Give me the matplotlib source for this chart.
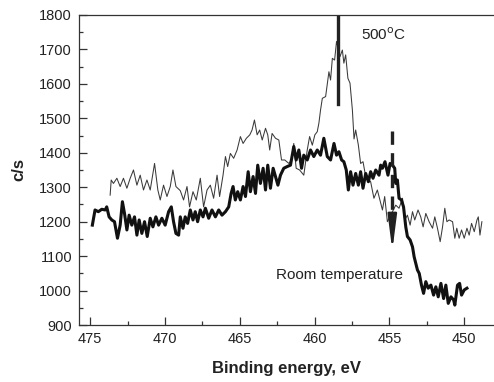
import matplotlib
matplotlib.use("Agg")
import matplotlib.pyplot as plt

plt.rcParams['font.family'] = ['Liberation Sans', 'DejaVu Sans']

# 500 C spectrum (thin line)
hot_ev = [473.67, 473.6, 473.45, 473.22, 473.0, 472.78, 472.55, 472.33, 472.11, 471.88,
          471.66, 471.44, 471.21, 470.99, 470.7, 470.48, 470.32, 470.1, 469.87, 469.65,
          469.47, 469.27, 468.98, 468.76, 468.53, 468.36, 468.13, 467.91, 467.64, 467.42,
          467.19, 466.97, 466.75, 466.52, 466.35, 466.12, 465.96, 465.81, 465.63, 465.41,
          465.18, 464.96, 464.78, 464.56, 464.33, 464.18, 464.02, 463.84, 463.67, 463.5,
          463.28, 463.13, 463.0, 462.84, 462.61, 462.39, 462.21, 461.99, 461.72, 461.54,
          461.39, 461.23, 461.0, 460.72, 460.49, 460.33, 460.15, 459.98, 459.82, 459.71,
          459.6, 459.48, 459.26, 459.04, 458.93, 458.81, 458.66, 458.53, 458.3, 458.14,
          458.04, 457.92, 457.77, 457.63, 457.47, 457.36, 457.25, 457.07, 456.92, 456.76,
          456.58, 456.25, 456.03, 455.8, 455.58, 455.46, 455.31, 455.13, 454.91, 454.57,
          454.35, 454.12, 453.97, 453.79, 453.61, 453.45, 453.3, 453.08, 452.9, 452.74,
          452.56, 452.34, 452.11, 451.96, 451.78, 451.6, 451.44, 451.29, 451.15, 451.0,
          450.77, 450.62, 450.49, 450.33, 450.17, 449.99, 449.81, 449.66, 449.5, 449.32,
          449.14, 449.05, 448.94, 448.81]
hot_cps = [1277, 1321, 1311, 1326, 1302, 1326, 1297, 1326, 1350, 1306,
           1335, 1292, 1321, 1292, 1369, 1292, 1263, 1306, 1273, 1302,
           1350, 1302, 1290, 1263, 1302, 1243, 1287, 1263, 1326, 1243,
           1292, 1306, 1268, 1335, 1273, 1335, 1389, 1360, 1398, 1384,
           1408, 1447, 1427, 1442, 1452, 1466, 1495, 1452, 1466, 1437,
           1471, 1452, 1408, 1456, 1442, 1437, 1379, 1379, 1369, 1379,
           1427, 1355, 1350, 1335, 1408, 1447, 1422, 1452, 1461, 1486,
           1524, 1558, 1563, 1635, 1611, 1674, 1669, 1723, 1679, 1698,
           1660, 1684, 1616, 1602, 1524, 1440, 1466, 1422, 1369, 1374,
           1331, 1316, 1268, 1292, 1255, 1234, 1273, 1200, 1219, 1248,
           1239, 1268, 1205, 1219, 1190, 1229, 1205, 1234, 1214, 1185,
           1224, 1200, 1181, 1214, 1181, 1142, 1185, 1239, 1200, 1205,
           1200, 1152, 1181, 1152, 1176, 1152, 1181, 1161, 1195, 1171,
           1205, 1214, 1161, 1200]

# room temperature spectrum (thick line)
rt_ev = [474.86, 474.68, 474.46, 474.23, 474.0, 473.9, 473.74, 473.56, 473.38, 473.18,
         473.0, 472.85, 472.71, 472.55, 472.4, 472.22, 472.04, 471.88, 471.73, 471.55,
         471.37, 471.19, 470.99, 470.81, 470.61, 470.43, 470.21, 469.99, 469.76, 469.58,
         469.43, 469.27, 469.09, 468.98, 468.8, 468.65, 468.49, 468.31, 468.13, 467.98,
         467.82, 467.64, 467.46, 467.3, 467.08, 466.86, 466.63, 466.41, 466.19, 465.96,
         465.74, 465.58, 465.45, 465.3, 465.14, 464.96, 464.78, 464.62, 464.44, 464.29,
         464.11, 463.95, 463.8, 463.62, 463.44, 463.28, 463.13, 462.95, 462.77, 462.61,
         462.45, 462.28, 462.06, 461.83, 461.61, 461.39, 461.23, 461.05, 460.87, 460.72,
         460.49, 460.27, 460.05, 459.82, 459.6, 459.38, 459.15, 458.93, 458.7, 458.53,
         458.37, 458.19, 458.04, 457.88, 457.74, 457.59, 457.43, 457.25, 457.07, 456.92,
         456.76, 456.58, 456.4, 456.25, 456.09, 455.91, 455.69, 455.58, 455.46, 455.29,
         455.09, 454.95, 454.79, 454.64, 454.57, 454.46, 454.35, 454.19, 454.05, 453.9,
         453.79, 453.61, 453.45, 453.34, 453.23, 453.12, 453.0, 452.85, 452.71, 452.56,
         452.4, 452.22, 452.04, 451.89, 451.73, 451.55, 451.37, 451.22, 451.06, 450.88,
         450.7, 450.62, 450.44, 450.3, 450.17, 449.99, 449.81]
rt_cps = [1190, 1234, 1229, 1236, 1234, 1243, 1214, 1205, 1200, 1152,
          1190, 1258, 1224, 1176, 1219, 1190, 1214, 1161, 1205, 1166,
          1200, 1157, 1210, 1185, 1214, 1190, 1210, 1190, 1229, 1243,
          1200, 1166, 1161, 1214, 1181, 1214, 1195, 1234, 1205, 1229,
          1200, 1234, 1214, 1239, 1210, 1234, 1214, 1234, 1219, 1229,
          1243, 1282, 1302, 1263, 1287, 1263, 1302, 1273, 1345, 1287,
          1331, 1282, 1364, 1311, 1355, 1292, 1364, 1297, 1355, 1330,
          1306, 1335, 1355, 1360, 1364, 1418, 1379, 1408, 1355, 1393,
          1379, 1408, 1389, 1408, 1393, 1442, 1389, 1379, 1427, 1393,
          1403, 1379, 1374, 1350, 1292, 1345, 1306, 1340, 1306, 1345,
          1297, 1340, 1316, 1345, 1326, 1350, 1335, 1364, 1355, 1374,
          1335, 1369, 1364, 1355, 1311, 1321, 1268, 1263, 1243, 1185,
          1157, 1147, 1127, 1098, 1079, 1060, 1050, 1016, 992, 1026,
          1007, 1016, 987, 1011, 982, 1021, 977, 1016, 963, 982,
          973, 958, 1016, 1021, 987, 1002, 1007]

fig = plt.figure(figsize=(4.94, 3.82), dpi=100)
ax = fig.add_axes([0.160, 0.149, 0.840, 0.812])

ax.plot(hot_ev, hot_cps, color='#3a3a3a', linewidth=0.75)
ax.plot(rt_ev, rt_cps, color='#111111', linewidth=2.2)

# markers
ax.plot([458.4, 458.4], [1800, 1542], color='#222222', linewidth=2.4)
ax.plot([454.8, 454.8], [1463, 1215], color='#222222', linewidth=2.4,
        linestyle=(0, (4, 2.5)))
ax.annotate('', xy=(454.8, 1108), xytext=(454.8, 1220),
            arrowprops=dict(arrowstyle='-|>,head_length=2.1,head_width=0.27',
                            color='#222222', linewidth=1.6))
ax.text(456.9, 1742, '500$^{\\rm o}$C', fontsize=11, color='#222222', va='center')
ax.text(462.6, 1045, 'Room temperature', fontsize=11, color='#222222', va='center')

ax.set_xlim(475.75, 448)
ax.set_ylim(900, 1800)
ax.set_xticks([475, 470, 465, 460, 455, 450])
ax.set_xticks([472.5, 467.5, 462.5, 457.5, 452.5], minor=True)
ax.set_yticks(range(900, 1801, 100))
ax.set_yticks(range(950, 1800, 100), minor=True)
ax.tick_params(which='both', direction='in', colors='#333333', labelsize=10.5,
               labelcolor='#222222', top=False, right=False)
ax.tick_params(which='major', length=6, width=0.9, pad=5)
ax.tick_params(which='minor', length=3, width=0.9)
ax.spines['right'].set_visible(False)
for s in ['left', 'bottom', 'top']:
    ax.spines[s].set_color('#333333')
    ax.spines[s].set_linewidth(0.9)

ax.set_xlabel('Binding energy, eV', fontsize=12, fontweight='bold', color='#222222',
              labelpad=11)
ax.set_ylabel('c/s', fontsize=12, fontweight='bold', color='#222222', labelpad=9)

fig.savefig('out.png', dpi=100)
